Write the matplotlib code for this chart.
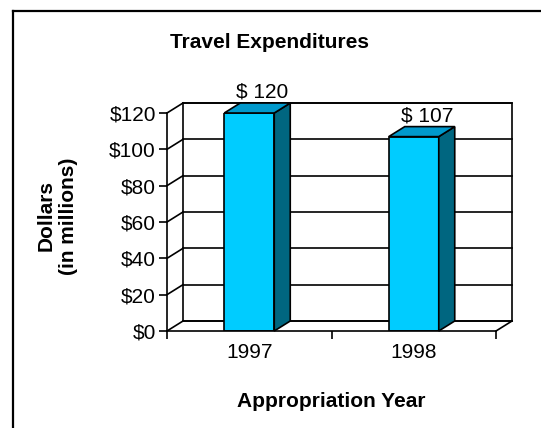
import matplotlib
matplotlib.use("Agg")
import matplotlib.pyplot as plt
from matplotlib.patches import Polygon, Rectangle
from matplotlib.lines import Line2D

plt.rcParams['font.family'] = ['Liberation Sans', 'DejaVu Sans']

years = ['1997', '1998']
values = [120, 107]
value_labels = ['$ 120', '$ 107']
yticks = [0, 20, 40, 60, 80, 100, 120]
ytick_labels = ['$0', '$20', '$40', '$60', '$80', '$100', '$120']

front_color = '#00CCFF'
side_color = '#006680'
top_color = '#0099CC'

W, H = 541, 428
fig = plt.figure(figsize=(W / 100, H / 100), dpi=100)

# axes = front plane of the 3-D box
ax = fig.add_axes([167 / W, (H - 331) / H, 329 / W, 218 / H])
ax.set_xlim(-0.5, 1.5)
ax.set_ylim(0, 120)

# depth offset in data units (about 16 px right, 10 px up)
dx = 16 / 164.5
dy = 10 / (218 / 120)

# back wall with gridlines
ax.add_patch(Rectangle((-0.5 + dx, dy), 2, 120, facecolor='white',
                       edgecolor='black', lw=1.2, clip_on=False, zorder=1))
for v in yticks:
    ax.plot([-0.5 + dx, 1.5 + dx], [v + dy, v + dy], color='black', lw=1.2,
            clip_on=False, zorder=1)
    ax.plot([-0.5, -0.5 + dx], [v, v + dy], color='black', lw=1.2,
            clip_on=False, zorder=1)
# floor right edge
ax.plot([1.5, 1.5 + dx], [0, dy], color='black', lw=1.2, clip_on=False, zorder=1)

# bars
bw = 50 / 164.5
xs = list(range(len(years)))
ax.bar(xs, values, width=bw, color=front_color, edgecolor='black', lw=1.2,
       zorder=3)
for x, v, lab in zip(xs, values, value_labels):
    r = x + bw / 2
    l = x - bw / 2
    ax.add_patch(Polygon([(r, 0), (r + dx, dy), (r + dx, v + dy), (r, v)],
                         closed=True, facecolor=side_color, edgecolor='black',
                         lw=1.2, zorder=3, clip_on=False))
    ax.add_patch(Polygon([(l, v), (l + dx, v + dy), (r + dx, v + dy), (r, v)],
                         closed=True, facecolor=top_color, edgecolor='black',
                         lw=1.2, zorder=3, clip_on=False))
    ax.text(x + 0.08, v + dy + 6, lab, ha='center', va='center', fontsize=15,
            zorder=5, clip_on=False)

# spines / axes
for s in ['top', 'right']:
    ax.spines[s].set_visible(False)
ax.spines['left'].set_linewidth(1.2)
ax.spines['bottom'].set_linewidth(1.2)
ax.spines['left'].set_zorder(4)
ax.spines['bottom'].set_zorder(4)
ax.set_yticks(yticks)
ax.set_yticklabels(ytick_labels, fontsize=15)
ax.set_xticks([-0.5, 0.5, 1.5])
ax.set_xticklabels([])
ax.set_xticks(xs, minor=True)
ax.set_xticklabels(years, minor=True, fontsize=15)
ax.tick_params(axis='x', which='minor', length=0, pad=9)
ax.tick_params(axis='x', which='major', length=6, width=1.2, direction='out')
ax.tick_params(axis='y', length=6, width=1.2, direction='out', pad=2)
ax.patch.set_visible(False)

ax.set_xlabel('Appropriation Year', fontsize=15, fontweight='bold', labelpad=21)
fig.text(57 / W, 1 - 216 / H, 'Dollars\n(in millions)', rotation=90,
         ha='center', va='center', multialignment='center', fontsize=15,
         fontweight='bold', linespacing=1.2)
fig.text(270 / W, 1 - 42 / H, 'Travel Expenditures', ha='center', va='center',
         fontsize=15, fontweight='bold')

# outer chart frame (cut off at right and bottom)
fig.add_artist(Line2D([13 / W, 13 / W], [0, 1 - 11 / H], color='black', lw=1.6))
fig.add_artist(Line2D([13 / W, 1], [1 - 11 / H, 1 - 11 / H], color='black', lw=1.6))

fig.savefig('out.png', dpi=100)
